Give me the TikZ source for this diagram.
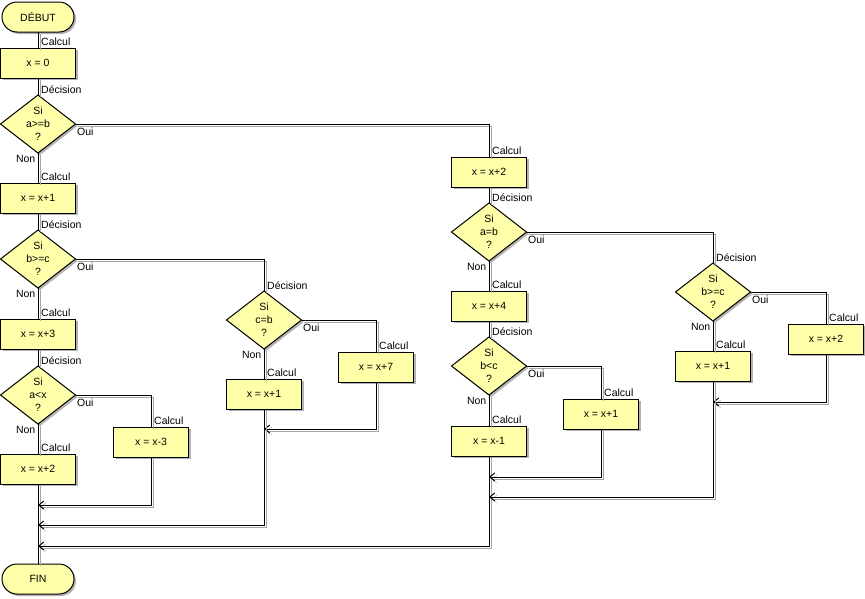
\documentclass[tikz,border=0pt]{standalone}
\usepackage{fontspec}
\setmainfont{Liberation Sans}
\usetikzlibrary{arrows.meta,positioning,shapes.geometric,shapes.misc,shadows}
\definecolor{boxyellow}{RGB}{255,255,170}
\tikzset{
  lbl/.style={inner sep=0pt},
  shade2/.style={drop shadow={shadow xshift=2pt,shadow yshift=-2pt,fill=black!30,opacity=1}},
  term/.style={rounded rectangle,draw,line width=1pt,fill=boxyellow,minimum width=72pt,minimum height=30pt,inner sep=0pt,outer sep=0pt,shade2},
  calc/.style={rectangle,draw,line width=1pt,fill=boxyellow,minimum width=75pt,minimum height=30pt,inner sep=0pt,outer sep=0pt,shade2,
    label={[lbl,anchor=base west,xshift=3pt,yshift=2.5pt]north:Calcul}},
  decision/.style={diamond,draw,line width=1pt,fill=boxyellow,minimum width=75pt,minimum height=58pt,inner sep=0pt,outer sep=0pt,
    shape aspect=1.3,text width=26pt,shade2,
    label={[lbl,anchor=base west,xshift=3pt,yshift=1.5pt]north:Décision},
    label={[lbl,anchor=base west,xshift=1.5pt,yshift=-11pt]east:Oui},
    label={[lbl,anchor=base east,xshift=-2.5pt,yshift=-9pt]south:Non}}
}
\begin{document}
\begin{tikzpicture}[x=1pt,y=-1pt,every node/.style={align=center,font=\fontsize{10.5}{13}\selectfont},
  flow/.style={line width=1pt,preaction={draw=black!35,transform canvas={xshift=2pt,yshift=-2pt}}},
  back/.style={flow,-{Straight Barb[length=5pt,width=8pt]}}]
\useasboundingbox (0,0) rectangle (865,598);
\node[term] (debut) at (38,17) {DÉBUT};
\node[calc,below=16pt of debut] (x0) {x = 0};
\node[decision,below=17pt of x0] (d1) {Si\\a>=b\\?};
\node[calc,below=30pt of d1] (x1) {x = x+1};
\node[decision,below=17pt of x1] (d2) {Si\\b>=c\\?};
\node[calc,below=31pt of d2] (x3) {x = x+3};
\node[decision,below=17pt of x3] (d3) {Si\\a<x\\?};
\node[calc,below=30pt of d3] (x2a) {x = x+2};
\node[calc] (xm3) at (151,442) {x = x-3};
\node[term] (fin) at (38,579) {FIN};
\node[decision] (dcb) at (264,320) {Si\\c=b\\?};
\node[calc,below=30pt of dcb] (x1b) {x = x+1};
\node[calc] (x7) at (376,367) {x = x+7};
\node[calc] (x2b) at (489,172) {x = x+2};
\node[decision,below=16pt of x2b] (dab) {Si\\a=b\\?};
\node[calc,below=30pt of dab] (x4) {x = x+4};
\node[decision,below=16pt of x4] (dbc) {Si\\b<c\\?};
\node[calc,below=31pt of dbc] (xm1) {x = x-1};
\node[calc] (x1c) at (601,414) {x = x+1};
\node[decision] (dge) at (713,292) {Si\\b>=c\\?};
\node[calc,below=30pt of dge] (x1d) {x = x+1};
\node[calc] (x2d) at (826,339) {x = x+2};
\coordinate (m1) at (38,505);
\coordinate (m2) at (38,525);
\coordinate (m3) at (38,546);
\coordinate (j2) at (264,429);
\coordinate (j3) at (489,477);
\coordinate (j4) at (489,497);
\coordinate (j5) at (713,402);
\draw[flow] (debut) -- (x0);
\draw[flow] (x0) -- (d1);
\draw[flow] (d1) -- (x1);
\draw[flow] (x1) -- (d2);
\draw[flow] (d2) -- (x3);
\draw[flow] (x3) -- (d3);
\draw[flow] (d3) -- (x2a);
\draw[flow] (x2a) -- (fin);
\draw[flow] (d3.east) -| (xm3);
\draw[back] (xm3) |- (m1);
\draw[flow] (d2.east) -| (dcb);
\draw[flow] (dcb) -- (x1b);
\draw[flow] (dcb.east) -| (x7);
\draw[back] (x7) |- (j2);
\draw[back] (x1b) |- (m2);
\draw[flow] (d1.east) -| (x2b);
\draw[flow] (x2b) -- (dab);
\draw[flow] (dab) -- (x4);
\draw[flow] (x4) -- (dbc);
\draw[flow] (dbc) -- (xm1);
\draw[back] (xm1) |- (m3);
\draw[flow] (dbc.east) -| (x1c);
\draw[back] (x1c) |- (j3);
\draw[flow] (dab.east) -| (dge);
\draw[flow] (dge) -- (x1d);
\draw[flow] (dge.east) -| (x2d);
\draw[back] (x2d) |- (j5);
\draw[back] (x1d) |- (j4);
\end{tikzpicture}
\end{document}
